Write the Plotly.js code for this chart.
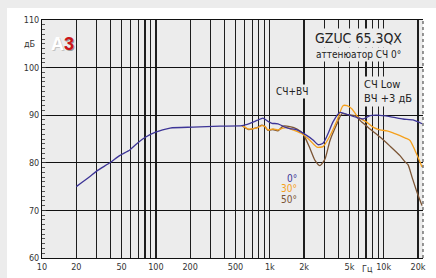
<!DOCTYPE html>
<html>
<head>
<meta charset="utf-8">
<script src="https://cdn.plot.ly/plotly-3.0.1.min.js"></script>
<style>
html,body{margin:0;padding:0;background:#ececec;width:436px;height:278px;overflow:hidden;}
#chart{position:absolute;left:7px;top:8px;width:429px;height:270px;background:#fff;}
</style>
</head>
<body>
<div id="chart"></div>
<script>
// 0° response
const freq0 = [20, 26, 30, 40, 48, 59, 68, 80, 98, 133, 212, 366, 570, 670, 772, 872, 964, 1045, 1180, 1360, 1500, 1734, 2121, 2395, 2650, 2931, 3243, 3588, 4133, 4860, 5830, 6580, 7580, 8735, 11360, 14770, 18080, 21690];
const spl0  = [75.0, 77.0, 78.2, 80.1, 81.5, 82.7, 84.0, 85.3, 86.4, 87.3, 87.5, 87.7, 87.8, 88.3, 88.9, 89.4, 88.7, 88.3, 88.2, 87.5, 87.2, 86.9, 85.7, 84.8, 83.8, 84.1, 86.1, 88.6, 90.6, 90.1, 89.5, 89.2, 89.9, 90.0, 89.7, 89.2, 89.0, 88.2];
// 30° response
const freq30 = [570, 606, 644, 772, 854, 908, 964, 1067, 1180, 1300, 1420, 1600, 1918, 2254, 2597, 2931, 3378, 3890, 4391, 4763, 5268, 5950, 7135, 8055, 9280, 10690, 12070, 13900, 15500, 17020, 18830, 20300, 21690];
const spl30  = [87.8, 87.5, 87.1, 87.35, 87.8, 87.6, 86.9, 87.1, 86.9, 87.3, 87.4, 86.9, 86.1, 84.7, 83.3, 83.4, 85.7, 88.9, 92.0, 92.0, 91.3, 89.6, 88.5, 87.5, 86.9, 86.7, 86.3, 85.7, 85.2, 84.7, 82.6, 80.8, 79.1];
// 50° response
const freq50 = [570, 606, 644, 772, 854, 908, 964, 1067, 1180, 1306, 1500, 1734, 1957, 2254, 2494, 2760, 3052, 3378, 3890, 4303, 4860, 5598, 6450, 7580, 9280, 11360, 13900, 15380, 16350, 17730, 19610, 21690];
const spl50  = [87.8, 87.4, 87.0, 87.4, 87.9, 87.6, 86.8, 87.0, 86.7, 87.7, 87.6, 87.1, 86.1, 83.0, 80.5, 79.4, 80.8, 84.7, 88.2, 90.3, 90.1, 89.9, 88.5, 87.1, 85.4, 83.5, 81.5, 80.2, 79.6, 77.0, 73.8, 71.0];

const xTickVals = [10,20,30,40,50,60,70,80,90,100,200,300,400,500,600,700,800,900,1000,2000,3000,4000,5000,6000,7000,8000,9000,10000,20000];
const xTickText = ['10','20','','','50','','','','','100','200','','','500','','','','','1k','2k','','','5k','','','','','10k','20k'];
const yTickVals = [60,70,80,90,100,110];

const blue = '#3d3597', orange = '#f5a01c', brown = '#7b5434';
const fontFam = '"DejaVu Sans Condensed", "Liberation Sans", Arial, sans-serif';

const traces = [
  {x: freq50, y: spl50, mode: 'lines', line: {color: brown, width: 1.3, shape: 'spline', smoothing: 0.6}, hoverinfo: 'skip'},
  {x: freq30, y: spl30, mode: 'lines', line: {color: orange, width: 1.3, shape: 'spline', smoothing: 0.6}, hoverinfo: 'skip'},
  {x: freq0, y: spl0, mode: 'lines', line: {color: blue, width: 1.3, shape: 'spline', smoothing: 0.6}, hoverinfo: 'skip'}
];

function px(x){ return (x - 42) / 381; }
function py(y){ return (257.5 - y) / 238; }
function ann(x, y, text, opts){
  return Object.assign({xref: 'paper', yref: 'paper', x: px(x), y: py(y), text: text, showarrow: false,
    xanchor: 'center', yanchor: 'middle'}, opts || {});
}

const layout = {
  width: 429, height: 270,
  margin: {l: 35, r: 13, t: 12, b: 20, pad: 0},
  paper_bgcolor: '#ffffff',
  plot_bgcolor: '#ececec',
  showlegend: false,
  font: {family: fontFam, size: 9, color: '#333'},
  xaxis: {
    type: 'log', range: [1, 4.345],
    tickmode: 'array', tickvals: xTickVals, ticktext: xTickText,
    showgrid: true, gridcolor: '#1e1e1e', gridwidth: 1.3,
    showline: true, linecolor: '#111', linewidth: 1, mirror: true,
    ticks: '', zeroline: false,
    tickfont: {family: fontFam, size: 9, color: '#333'}
  },
  yaxis: {
    range: [60, 110], tickmode: 'array', tickvals: yTickVals,
    showgrid: true, gridcolor: '#111', gridwidth: 1.3,
    showline: true, linecolor: '#111', linewidth: 1,
    ticks: 'inside', ticklen: 4, tickcolor: '#333', zeroline: false,
    minor: {dtick: 1, ticks: 'inside', ticklen: 3, tickcolor: '#555', showgrid: false},
    tickfont: {family: fontFam, size: 9, color: '#333'}
  },
  shapes: [
    {type: 'line', xref: 'paper', yref: 'paper', x0: 1, x1: 1, y0: 0, y1: 1, line: {color: '#333', width: 1, dash: 'dot'}}
  ],
  annotations: [
    ann(29.5, 43, 'дБ', {font: {family: fontFam, size: 9, color: '#333'}}),
    ann(63.5, 45, '<b>A<span style="color:#9a9a9a">3</span></b>', {font: {family: 'Liberation Sans, Arial, sans-serif', size: 18, color: '#c4c4c4'}}),
    ann(62, 43.5, '<b>A<span style="color:#cc1418">3</span></b>', {font: {family: 'Liberation Sans, Arial, sans-serif', size: 18, color: '#ffffff'}}),
    ann(358.5, 38, 'GZUC 65.3QX', {bgcolor: '#ececec', borderpad: 1, font: {family: fontFam, size: 14, color: '#222'}}),
    ann(358, 53.5, 'аттенюатор СЧ 0°', {bgcolor: '#ececec', borderpad: 1, font: {family: fontFam, size: 10, color: '#222'}}),
    ann(362, 90.5, 'СЧ Low<br>ВЧ +3 дБ', {xanchor: 'left', align: 'left', bgcolor: '#ececec', borderpad: 1, font: {family: fontFam, size: 11, color: '#222'}}),
    ann(292, 91, 'СЧ+ВЧ', {bgcolor: '#ececec', borderpad: 1, font: {family: fontFam, size: 10, color: '#222'}}),
    ann(297.5, 177, '0°', {xanchor: 'right', height: 8, borderpad: 0, font: {family: fontFam, size: 10, color: blue}}),
    ann(297.5, 187.5, '30°', {xanchor: 'right', height: 8, borderpad: 0, font: {family: fontFam, size: 10, color: orange}}),
    ann(297.5, 198, '50°', {xanchor: 'right', height: 8, borderpad: 0, font: {family: fontFam, size: 10, color: brown}}),
    ann(367, 268.5, 'Гц', {font: {family: fontFam, size: 9, color: '#333'}})
  ]
};

Plotly.newPlot('chart', traces, layout, {staticPlot: true, displayModeBar: false});
</script>
</body>
</html>
